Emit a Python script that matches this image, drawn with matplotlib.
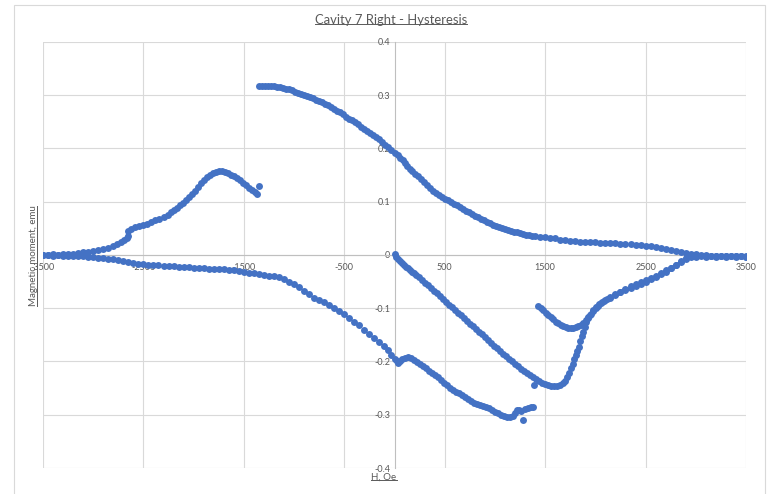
import matplotlib
matplotlib.use("Agg")
import matplotlib.pyplot as plt
from matplotlib.ticker import FixedLocator, FuncFormatter
from matplotlib.lines import Line2D
from matplotlib.patches import Rectangle

# field H (Oe) and moment (emu), one pair of lists per measured branch
h_rise_left = [-3500, -3450, -3400, -3350, -3300, -3250, -3200, -3150, -3100, -3050,
               -3000, -2950, -2900, -2850, -2800, -2760, -2720, -2690, -2665, -2650,
               -2655, -2620, -2580, -2540, -2500, -2460, -2420, -2380, -2340, -2300,
               -2260, -2230, -2200, -2170, -2140, -2110, -2080, -2050, -2020, -1990,
               -1960, -1930, -1900, -1870, -1840, -1810, -1780, -1750, -1720, -1690,
               -1660, -1630, -1600, -1570, -1540, -1510, -1480, -1450, -1420, -1390,
               -1365, -1345]
m_rise_left = [0.000, 0.000, 0.001, 0.000, 0.001, 0.002, 0.002, 0.004, 0.005, 0.006,
               0.008, 0.009, 0.011, 0.014, 0.017, 0.021, 0.024, 0.028, 0.032, 0.036,
               0.046, 0.049, 0.052, 0.054, 0.056, 0.059, 0.062, 0.065, 0.068, 0.071,
               0.076, 0.080, 0.085, 0.089, 0.093, 0.098, 0.103, 0.108, 0.114, 0.121,
               0.128, 0.135, 0.141, 0.146, 0.151, 0.154, 0.156, 0.157, 0.157, 0.156,
               0.154, 0.151, 0.148, 0.144, 0.140, 0.135, 0.131, 0.126, 0.122, 0.118,
               0.114, 0.129]

h_fall_low = [-3500, -3450, -3400, -3350, -3300, -3250, -3200, -3150, -3100, -3050,
              -3000, -2950, -2900, -2850, -2800, -2750, -2700, -2650, -2600, -2550,
              -2500, -2450, -2400, -2350, -2300, -2250, -2200, -2150, -2100, -2050,
              -2000, -1950, -1900, -1850, -1800, -1750, -1700, -1650, -1600, -1550,
              -1500, -1450, -1400, -1350, -1300, -1250, -1200, -1150, -1100, -1050,
              -1000, -950, -900, -850, -800, -750, -700, -650, -600, -550,
              -500, -450, -400, -350, -300, -250, -200, -150, -100, -60,
              -30, 0, 20, 35, 55, 75, 100, 130, 160, 190,
              220, 250, 280, 310, 340, 370, 400, 430, 460, 490,
              520, 550, 580, 610, 640, 670, 700, 730, 760, 790,
              820, 850, 880, 910, 940, 970, 1000, 1030, 1060, 1090,
              1120, 1150, 1175, 1195, 1215, 1235, 1255, 1280, 1300, 1330,
              1360, 1380]
m_fall_low = [0.000, 0.000, -0.001, 0.000, -0.001, -0.002, -0.001, -0.002, -0.002, -0.003,
              -0.004, -0.005, -0.006, -0.007, -0.008, -0.010, -0.012, -0.014, -0.015, -0.016,
              -0.017, -0.018, -0.019, -0.019, -0.020, -0.021, -0.021, -0.022, -0.023, -0.023,
              -0.024, -0.024, -0.025, -0.026, -0.026, -0.027, -0.027, -0.028, -0.029, -0.030,
              -0.031, -0.033, -0.034, -0.036, -0.037, -0.039, -0.040, -0.042, -0.045, -0.050,
              -0.055, -0.061, -0.067, -0.073, -0.080, -0.085, -0.089, -0.093, -0.099, -0.105,
              -0.111, -0.118, -0.125, -0.132, -0.140, -0.148, -0.156, -0.164, -0.170, -0.179,
              -0.187, -0.195, -0.200, -0.203, -0.199, -0.195, -0.193, -0.192, -0.194, -0.197,
              -0.201, -0.205, -0.209, -0.213, -0.217, -0.221, -0.225, -0.230, -0.235, -0.240,
              -0.245, -0.249, -0.253, -0.257, -0.260, -0.263, -0.267, -0.271, -0.274, -0.277,
              -0.280, -0.282, -0.284, -0.286, -0.288, -0.291, -0.294, -0.297, -0.300, -0.302,
              -0.304, -0.305, -0.302, -0.297, -0.291, -0.291, -0.293, -0.309, -0.289, -0.287,
              -0.285, -0.286]

h_fall_high = [-1350, -1320, -1290, -1260, -1230, -1200, -1170, -1140, -1110, -1080,
               -1050, -1020, -990, -960, -930, -900, -870, -840, -810, -780,
               -750, -720, -690, -660, -630, -600, -570, -540, -510, -480,
               -450, -420, -390, -360, -330, -300, -270, -240, -210, -180,
               -150, -120, -90, -60, -30, 0, 30, 55, 80, 100,
               125, 150, 175, 200, 230, 260, 290, 320, 350, 380,
               410, 440, 470, 500, 530, 560, 590, 620, 650, 680,
               710, 740, 770, 800, 830, 860, 890, 920, 950, 980,
               1010, 1040, 1070, 1100, 1130, 1160, 1190, 1220, 1250, 1280,
               1310, 1340, 1370, 1400, 1450, 1500, 1550, 1600, 1650, 1700,
               1750, 1800, 1850, 1900, 1950, 2000, 2050, 2100, 2150, 2200,
               2250, 2300, 2350, 2400, 2450, 2500, 2550, 2600, 2650, 2700,
               2750, 2800, 2850, 2900, 2950, 3000, 3050, 3100, 3150, 3200,
               3250, 3300, 3350, 3400, 3450, 3500]
m_fall_high = [0.317, 0.318, 0.318, 0.318, 0.318, 0.317, 0.316, 0.315, 0.314, 0.312,
               0.311, 0.309, 0.307, 0.305, 0.303, 0.301, 0.299, 0.297, 0.295, 0.292,
               0.290, 0.287, 0.284, 0.281, 0.278, 0.275, 0.271, 0.268, 0.264, 0.260,
               0.256, 0.253, 0.250, 0.246, 0.241, 0.237, 0.233, 0.229, 0.225, 0.221,
               0.217, 0.212, 0.207, 0.202, 0.197, 0.192, 0.187, 0.183, 0.178, 0.172,
               0.167, 0.162, 0.158, 0.153, 0.148, 0.143, 0.137, 0.131, 0.126, 0.120,
               0.116, 0.112, 0.109, 0.106, 0.103, 0.099, 0.096, 0.093, 0.090, 0.087,
               0.083, 0.080, 0.077, 0.074, 0.071, 0.068, 0.065, 0.062, 0.060, 0.057,
               0.055, 0.053, 0.051, 0.049, 0.047, 0.046, 0.044, 0.043, 0.041, 0.040,
               0.038, 0.037, 0.036, 0.035, 0.034, 0.033, 0.032, 0.031, 0.029, 0.028,
               0.027, 0.026, 0.025, 0.025, 0.024, 0.024, 0.023, 0.023, 0.022, 0.022,
               0.021, 0.021, 0.020, 0.019, 0.018, 0.017, 0.016, 0.015, 0.013, 0.011,
               0.009, 0.007, 0.005, 0.003, 0.002, 0.001, 0.000, 0.000, -0.001, -0.001,
               -0.001, -0.001, -0.001, -0.001, -0.002, -0.003]

h_return = [0, 15, 30, 50, 70, 90, 110, 130, 150, 170,
            190, 210, 240, 270, 300, 330, 360, 390, 420, 450,
            480, 510, 540, 570, 600, 630, 660, 690, 720, 750,
            780, 810, 840, 870, 900, 930, 960, 990, 1020, 1050,
            1080, 1110, 1140, 1170, 1200, 1230, 1260, 1290, 1320, 1350,
            1380, 1390, 1410, 1440, 1470, 1500, 1530, 1560, 1590, 1620,
            1650, 1675, 1700, 1720, 1740, 1760, 1775, 1790, 1805, 1820,
            1835, 1850, 1865, 1880, 1895, 1910, 1930, 1950, 1980, 2010,
            2040, 2070, 2100, 2150, 2200, 2250, 2300, 2350, 2400, 2450,
            2500, 2550, 2600, 2650, 2700, 2750, 2800, 2850, 2900, 2950,
            3000, 3050, 3100, 3150, 3200, 3250, 3300, 3350, 3400, 3450,
            3500]
m_return = [0.002, -0.003, -0.007, -0.011, -0.015, -0.019, -0.022, -0.025, -0.028, -0.031,
            -0.034, -0.037, -0.042, -0.047, -0.052, -0.057, -0.062, -0.067, -0.072, -0.077,
            -0.083, -0.088, -0.093, -0.098, -0.103, -0.108, -0.113, -0.119, -0.124, -0.129,
            -0.134, -0.139, -0.144, -0.149, -0.154, -0.159, -0.165, -0.170, -0.175, -0.180,
            -0.185, -0.190, -0.195, -0.200, -0.205, -0.209, -0.214, -0.218, -0.222, -0.226,
            -0.230, -0.245, -0.233, -0.237, -0.240, -0.243, -0.245, -0.246, -0.246, -0.246,
            -0.244, -0.241, -0.236, -0.229, -0.221, -0.212, -0.204, -0.196, -0.188, -0.180,
            -0.172, -0.162, -0.153, -0.145, -0.135, -0.125, -0.118, -0.112, -0.104, -0.097,
            -0.092, -0.088, -0.084, -0.079, -0.074, -0.069, -0.064, -0.059, -0.055, -0.051,
            -0.047, -0.043, -0.039, -0.034, -0.029, -0.024, -0.018, -0.011, -0.005, -0.002,
            -0.001, -0.002, -0.002, -0.001, -0.002, -0.001, -0.002, -0.001, -0.002, -0.001,
            -0.002]

h_minor = [1430, 1455, 1480, 1505, 1530, 1555, 1580, 1605, 1630, 1655,
           1680, 1705, 1730, 1755, 1780, 1805, 1830, 1855, 1880, 1905,
           1930, 1955, 1980, 2005, 2030, 2060, 2090, 2120, 2150, 2200,
           2250, 2300, 2350, 2400, 2450, 2500, 2550, 2600, 2650, 2700,
           2750, 2800, 2850, 2900, 2950, 3000, 3100, 3200, 3300, 3400,
           3500]
m_minor = [-0.096, -0.100, -0.104, -0.108, -0.112, -0.117, -0.121, -0.125, -0.128, -0.131,
           -0.134, -0.136, -0.138, -0.138, -0.137, -0.136, -0.134, -0.131, -0.127, -0.122,
           -0.117, -0.111, -0.105, -0.100, -0.096, -0.091, -0.087, -0.083, -0.080, -0.075,
           -0.070, -0.066, -0.062, -0.058, -0.054, -0.050, -0.046, -0.041, -0.036, -0.031,
           -0.025, -0.019, -0.013, -0.008, -0.004, -0.003, -0.003, -0.003, -0.003, -0.003,
           -0.004]

x_ticks = [-3500, -2500, -1500, -500, 500, 1500, 2500, 3500]
y_ticks = [-0.4, -0.3, -0.2, -0.1, 0.0, 0.1, 0.2, 0.3, 0.4]

W, H = 769, 494
blue = "#4472C4"
grey_txt = "#595959"
grid_c = "#d9d9d9"

plt.rcParams["font.family"] = ["Lato", "DejaVu Sans"]

fig = plt.figure(figsize=(W / 100, H / 100), dpi=100)
ax = fig.add_axes([43 / W, 1 - 468 / H, (746 - 43) / W, (468 - 42) / H])

for hs, ms in [(h_rise_left, m_rise_left), (h_fall_low, m_fall_low),
               (h_fall_high, m_fall_high), (h_return, m_return), (h_minor, m_minor)]:
    ax.plot(hs, ms, "o", color=blue, ms=5.0, mew=0, zorder=3)

ax.set_xlim(-3500, 3500)
ax.set_ylim(-0.4, 0.4)
ax.xaxis.set_major_locator(FixedLocator(x_ticks))
ax.yaxis.set_major_locator(FixedLocator(y_ticks))
ax.yaxis.set_major_formatter(FuncFormatter(lambda v, p: f"{round(v, 1):g}"))
ax.xaxis.set_major_formatter(FuncFormatter(lambda v, p: f"{v:.0f}"))

ax.grid(True, color=grid_c, lw=0.8, zorder=0)
ax.set_axisbelow(True)
for s in ["top", "right"]:
    ax.spines[s].set_visible(False)
# axes cross at the origin
ax.spines["left"].set_position(("data", 0))
ax.spines["bottom"].set_position(("data", 0))
ax.spines["left"].set_color("#bfbfbf")
ax.spines["bottom"].set_color("#bfbfbf")
ax.spines["left"].set_linewidth(0.8)
ax.spines["bottom"].set_linewidth(0.8)
ax.tick_params(length=0, labelsize=6.5, labelcolor=grey_txt)
ax.tick_params(axis="x", pad=6)
ax.tick_params(axis="y", pad=3)

# outer chart frame
fig.add_artist(Rectangle((14 / W, -0.05), (765 - 14) / W, 0.05 + 1 - 5 / H,
                         transform=fig.transFigure, fill=False, ec=grid_c, lw=0.8))

title = fig.text(391 / W, 1 - 20 / H, "Cavity 7 Right - Hysteresis", ha="center",
                 va="center", fontsize=9.4, color=grey_txt)
xlab = fig.text(384 / W, 1 - 477 / H, "H, Oe", ha="center", va="center",
                fontsize=7, color=grey_txt)
ylab = fig.text(34 / W, 1 - 256 / H, "Magnetic moment, emu", ha="center", va="center",
                rotation=90, fontsize=7, color=grey_txt)

# underline the titles
fig.canvas.draw()
r = fig.canvas.get_renderer()
inv = fig.transFigure.inverted()
for t in [title, xlab]:
    bb = t.get_window_extent(r).transformed(inv)
    y = bb.y0 + 1.5 / H
    fig.add_artist(Line2D([bb.x0, bb.x1], [y, y], color=grey_txt, lw=0.7))
bb = ylab.get_window_extent(r).transformed(inv)
x = bb.x1 - 1.5 / W
fig.add_artist(Line2D([x, x], [bb.y0, bb.y1], color=grey_txt, lw=0.7))

fig.savefig("out.png", dpi=100)
